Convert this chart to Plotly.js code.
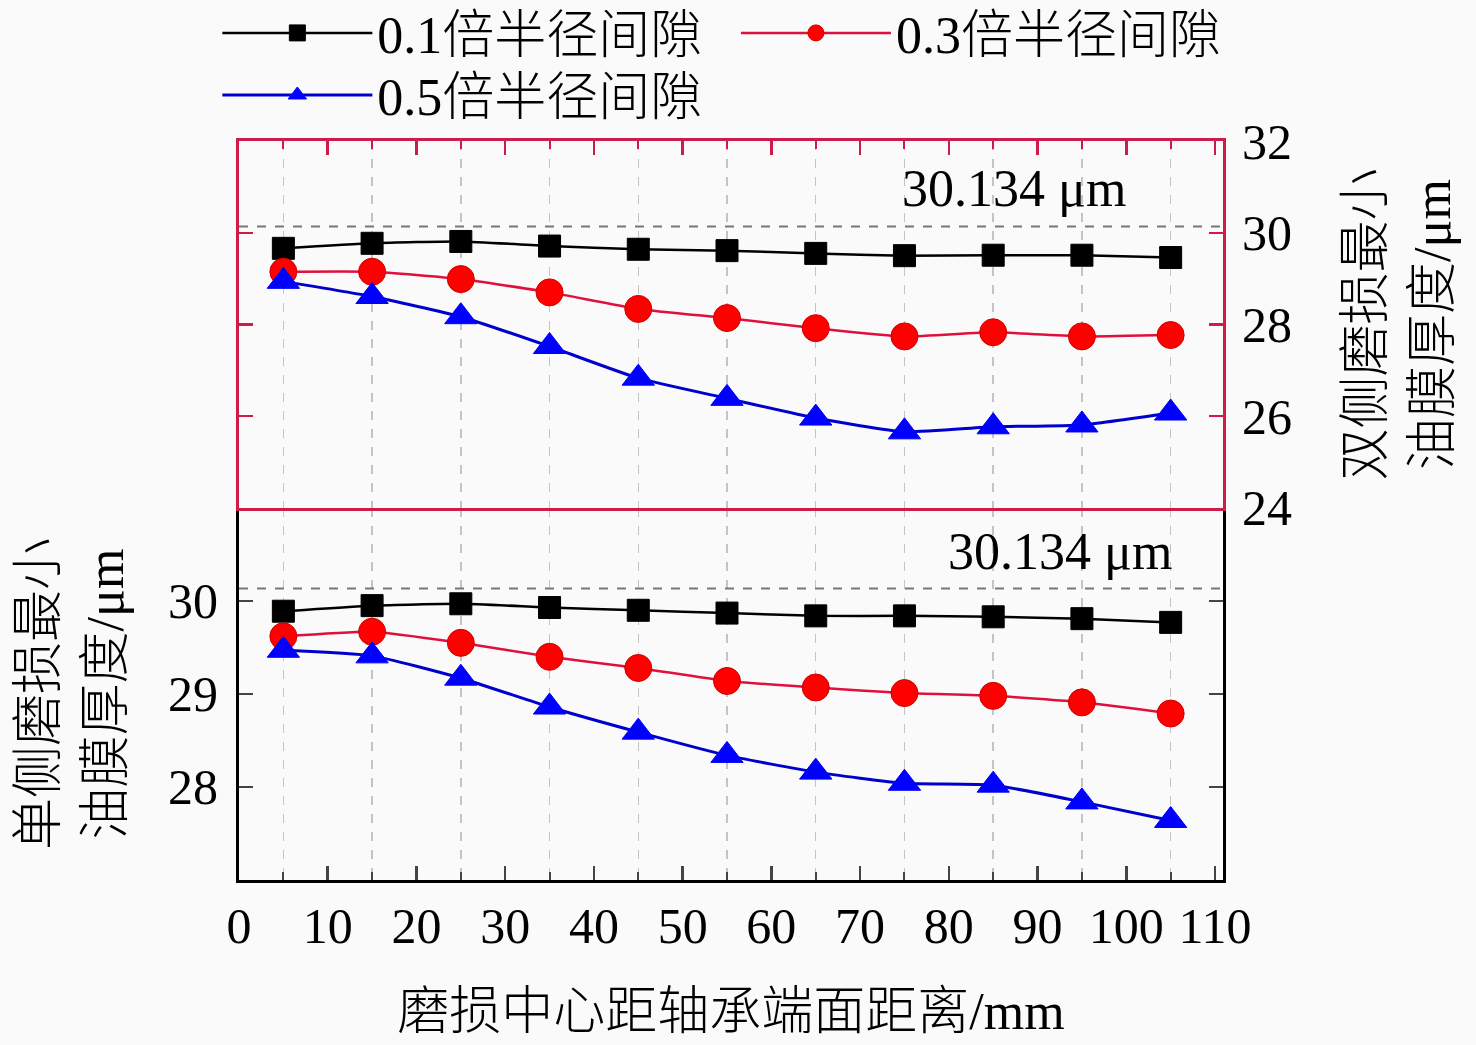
<!DOCTYPE html>
<html>
<head>
<meta charset="utf-8">
<script src="https://cdn.plot.ly/plotly-3.0.1.min.js"></script>
<style>
  html, body { margin: 0; padding: 0; background: #fafafa; }
  #chart { width: 1476px; height: 1045px; }
</style>
</head>
<body>
<div id="chart"></div>
<script>
// distance of wear centre from bearing end face (mm)
var xPos = [5, 15, 25, 35, 45, 55, 65, 75, 85, 95, 105];

var seriesNames = ['0.1倍半径间隙', '0.3倍半径间隙', '0.5倍半径间隙'];

// single-side wear, minimum film thickness (um) - lower panel
var single01 = [29.89, 29.95, 29.97, 29.93, 29.90, 29.87, 29.84, 29.84, 29.83, 29.81, 29.77];
var single03 = [29.62, 29.67, 29.55, 29.40, 29.28, 29.14, 29.07, 29.01, 28.98, 28.91, 28.79];
var single05 = [29.47, 29.41, 29.17, 28.86, 28.59, 28.34, 28.16, 28.04, 28.02, 27.84, 27.64];

// double-side wear, minimum film thickness (um) - upper panel
var double01 = [29.66, 29.77, 29.81, 29.71, 29.64, 29.61, 29.55, 29.50, 29.51, 29.51, 29.46];
var double03 = [29.15, 29.15, 28.99, 28.70, 28.34, 28.14, 27.92, 27.74, 27.83, 27.74, 27.77];
var double05 = [28.94, 28.61, 28.17, 27.52, 26.83, 26.39, 25.96, 25.66, 25.77, 25.81, 26.07];

var refThickness = 30.134;
var refLabel = '30.134 μm';

var xTicks = [0, 10, 20, 30, 40, 50, 60, 70, 80, 90, 100, 110];
var yTicksLow = [28, 29, 30];
var yTicksHigh = [24, 26, 28, 30, 32];

var FONT = 'Liberation Serif, "Noto Sans CJK SC", serif';
var RED_FRAME = '#cf1b4a';

var styles = [
  {line: '#000000', marker: '#000000', edge: '#000000', symbol: 'square', size: 22, width: 2.5, legend: 'legend'},
  {line: '#e0103c', marker: '#ff0000', edge: '#d00000', symbol: 'circle', size: 27, width: 2.5, legend: 'legend2'},
  {line: '#0000cc', marker: '#0000ff', edge: '#0000ff', symbol: 'triangle-up', size: 28, width: 3, legend: 'legend3'}
];

function makeTrace(i, yvals, xa, ya, showLegend) {
  var s = styles[i];
  return {
    x: xPos, y: yvals, xaxis: xa, yaxis: ya,
    type: 'scatter', mode: 'lines+markers',
    name: seriesNames[i], showlegend: showLegend, legend: s.legend, legendgroup: 'g' + i,
    line: {color: s.line, width: s.width, shape: 'spline', smoothing: 0.5},
    marker: {symbol: s.symbol, size: s.size, color: s.marker, line: {color: s.edge, width: 1}}
  };
}

var traces = [
  makeTrace(0, double01, 'x2', 'y2', true),
  makeTrace(1, double03, 'x2', 'y2', true),
  makeTrace(2, double05, 'x2', 'y2', true),
  makeTrace(0, single01, 'x', 'y', false),
  makeTrace(1, single03, 'x', 'y', false),
  makeTrace(2, single05, 'x', 'y', false)
];

function legendAt(x, y) {
  return {
    orientation: 'h', x: x, xanchor: 'left', y: y, yanchor: 'middle',
    bgcolor: 'rgba(0,0,0,0)', font: {family: FONT, size: 52, weight: 300},
    itemwidth: 150
  };
}

var split = 0.5034;
var minorGrid = {
  tick0: 5, dtick: 10, ticks: 'inside', ticklen: 8, tickwidth: 2,
  showgrid: true, gridcolor: '#c4c4c4', griddash: 'dash', gridwidth: 1.5
};
var titleFont = {family: FONT, size: 52, weight: 300};
var tickFont = {family: FONT, size: 50};

var layout = {
  width: 1476, height: 1045,
  margin: {l: 239, r: 253, t: 141, b: 165, autoexpand: false},
  paper_bgcolor: '#fafafa', plot_bgcolor: '#fafafa',
  font: {family: FONT, size: 48, color: '#000'},
  showlegend: true,
  legend: legendAt(-0.022, 1.146),
  legend2: legendAt(0.505, 1.146),
  legend3: legendAt(-0.022, 1.062),
  xaxis: {
    domain: [0, 1], anchor: 'y', range: [0, 110.9],
    tickvals: xTicks, ticks: 'inside', ticklen: 14, tickwidth: 2.5,
    showline: true, linecolor: '#000', linewidth: 3, mirror: false,
    showgrid: false, zeroline: false, minor: minorGrid,
    tickfont: tickFont,
    title: {text: '磨损中心距轴承端面距离/mm', font: titleFont, standoff: 40}
  },
  yaxis: {
    domain: [0, split], anchor: 'x', range: [27, 31],
    tickvals: yTicksLow, ticks: 'inside', ticklen: 14, tickwidth: 2.5,
    showline: true, linecolor: '#000', linewidth: 3, mirror: 'ticks',
    showgrid: false, zeroline: false, ticklabelstandoff: 8,
    tickfont: tickFont,
    title: {text: '单侧磨损最小<br>油膜厚度/μm', font: titleFont, standoff: 28}
  },
  xaxis2: {
    domain: [0, 1], anchor: 'y2', matches: 'x', side: 'top',
    tickvals: xTicks, showticklabels: false, ticks: 'inside', ticklen: 14, tickwidth: 2.5,
    tickcolor: RED_FRAME,
    showline: true, linecolor: RED_FRAME, linewidth: 3, mirror: true,
    showgrid: false, zeroline: false, minor: minorGrid
  },
  yaxis2: {
    domain: [split, 1], anchor: 'x2', side: 'right', range: [24, 32],
    tickvals: yTicksHigh, ticks: 'inside', ticklen: 14, tickwidth: 2.5,
    tickcolor: RED_FRAME,
    showline: true, linecolor: RED_FRAME, linewidth: 3, mirror: 'ticks',
    showgrid: false, zeroline: false, ticklabelstandoff: 6,
    tickfont: tickFont,
    title: {text: '双侧磨损最小<br>油膜厚度/μm', font: titleFont, standoff: 56}
  },
  shapes: [
    {type: 'line', xref: 'x domain', x0: 0, x1: 1, yref: 'y2', y0: refThickness, y1: refThickness,
     line: {color: '#777', width: 2, dash: 'dash'}},
    {type: 'line', xref: 'x domain', x0: 0, x1: 1, yref: 'y', y0: refThickness, y1: refThickness,
     line: {color: '#777', width: 2, dash: 'dash'}}
  ],
  annotations: [
    {xref: 'x2', yref: 'y2', x: 87.4, y: 30.96, text: refLabel, showarrow: false,
     font: {family: FONT, size: 52}},
    {xref: 'x', yref: 'y', x: 92.5, y: 30.53, text: refLabel, showarrow: false,
     font: {family: FONT, size: 52}}
  ]
};

Plotly.newPlot('chart', traces, layout, {displayModeBar: false, staticPlot: true});
</script>
</body>
</html>
